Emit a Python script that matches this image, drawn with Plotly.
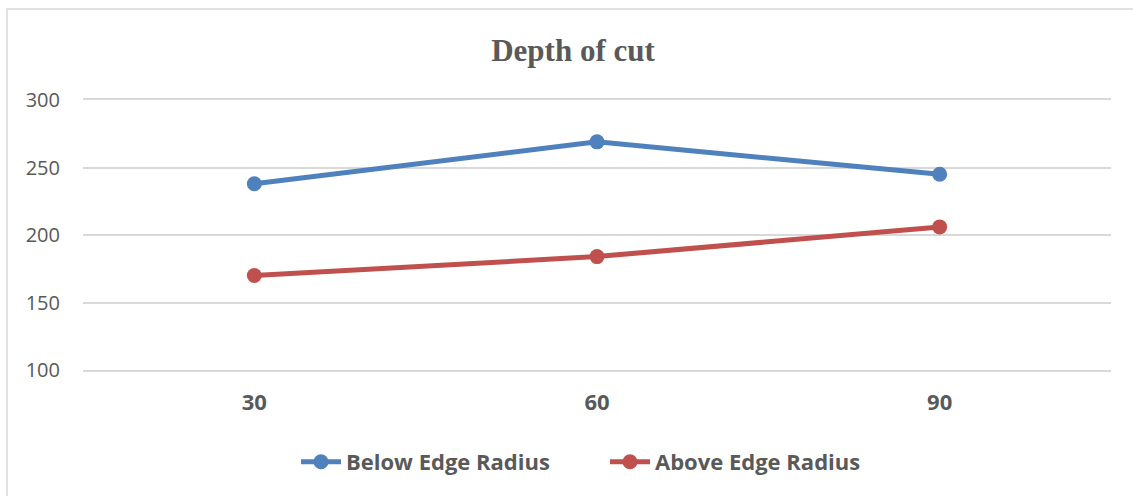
import plotly.graph_objects as go

# Depth of cut values for each edge-radius condition
depth_of_cut = ["30", "60", "90"]
below_edge_radius = [238, 269, 245]
above_edge_radius = [170, 184, 206]
y_ticks = [100, 150, 200, 250, 300]

W, H = 1133, 496
M_L, M_R, M_T, M_B = 83, 22, 100, 126
plot_w = W - M_L - M_R
plot_h = H - M_T - M_B

GRID = "#D9D9D9"
TEXT = "#595959"

fig = go.Figure()
fig.add_trace(go.Scatter(
    x=depth_of_cut, y=below_edge_radius, name="Below Edge Radius",
    mode="lines+markers",
    line=dict(color="#4F81BD", width=5),
    marker=dict(color="#4F81BD", size=15),
))
fig.add_trace(go.Scatter(
    x=depth_of_cut, y=above_edge_radius, name="Above Edge Radius",
    mode="lines+markers",
    line=dict(color="#C0504D", width=5),
    marker=dict(color="#C0504D", size=15),
))

# outer chart frame (left and top edges visible)
fig.add_shape(
    type="rect", xref="paper", yref="paper",
    x0=(7 - M_L) / plot_w, x1=(W + 40 - M_L) / plot_w,
    y0=-(H + 40 - M_T - plot_h) / plot_h, y1=(H - M_B - 9) / plot_h,
    line=dict(color=GRID, width=1.5), fillcolor="rgba(0,0,0,0)",
    layer="below",
)

fig.update_layout(
    width=W, height=H,
    margin=dict(l=M_L, r=M_R, t=M_T, b=M_B),
    paper_bgcolor="white", plot_bgcolor="white",
    title=dict(
        text="<b>Depth of cut</b>", x=573 / W, xanchor="center",
        y=1 - 50 / H, yanchor="middle", xref="container", yref="container",
        font=dict(family="Liberation Serif", size=31, color=TEXT),
    ),
    xaxis=dict(
        type="category", range=[-0.5, 2.5],
        showgrid=False, zeroline=False, ticks="",
        showline=True, mirror=True, linecolor=GRID, linewidth=1.5,
        tickfont=dict(family="Open Sans", size=22, color=TEXT, weight="bold"),
        ticklabelstandoff=12,
    ),
    yaxis=dict(
        range=[100, 300], tickvals=y_ticks,
        showgrid=True, gridcolor=GRID, gridwidth=1.5,
        zeroline=False, showline=False, ticks="",
        tickfont=dict(family="Open Sans", size=20, color=TEXT),
        ticklabelstandoff=22,
    ),
    legend=dict(
        orientation="h", x=296 / W, xanchor="left", xref="container",
        y=1 - 462 / H, yanchor="middle", yref="container",
        font=dict(family="Open Sans", size=22, color=TEXT, weight="bold"),
        itemwidth=40, entrywidth=254, entrywidthmode="pixels",
    ),
    showlegend=True,
)

fig.write_html("out.html")
